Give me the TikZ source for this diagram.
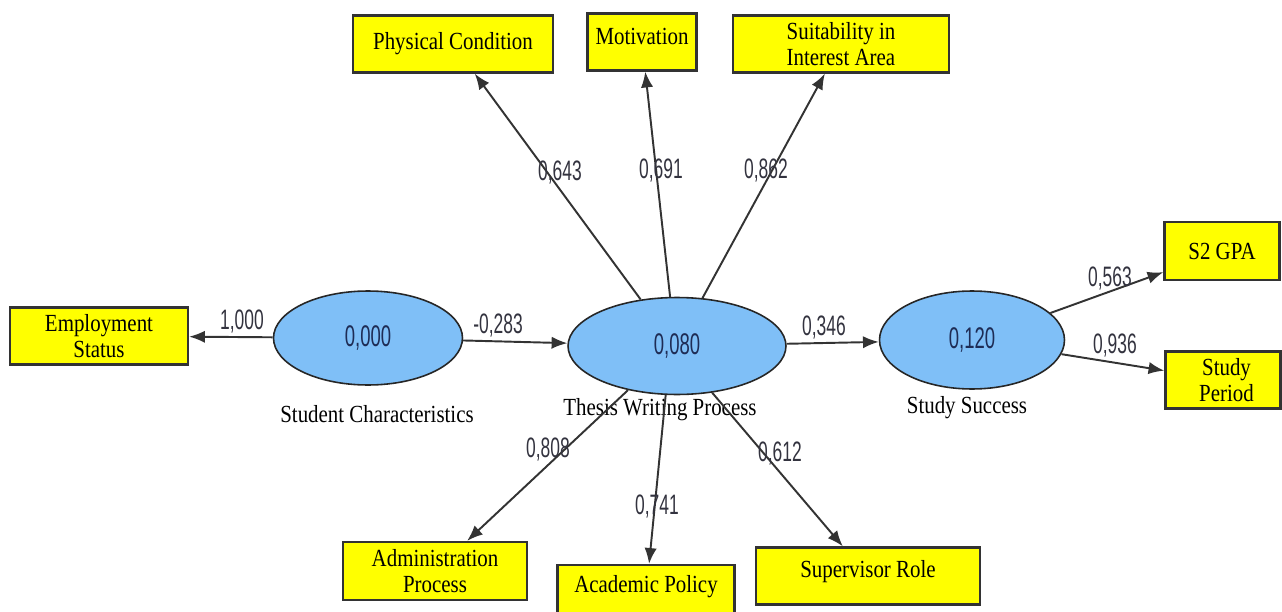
\documentclass[tikz,border=0pt]{standalone}
\usepackage{fontspec}
\setmainfont[FakeStretch=0.85]{Liberation Serif}
\newfontfamily\numfont[FakeStretch=0.62]{Liberation Sans}
\usetikzlibrary{arrows.meta,shapes.geometric}
\definecolor{boxyellow}{HTML}{FFFF00}
\definecolor{latentblue}{HTML}{7FBFF7}
\definecolor{coefgray}{HTML}{33333F}
\definecolor{valnavy}{HTML}{1E2C55}
\begin{document}
\begin{tikzpicture}[x=0.02cm,y=-0.02cm,
    indicator/.style={draw=black!80,line width=1.3pt,fill=boxyellow,inner sep=0pt,align=center,font=\fontsize{14}{14.5}\selectfont},
    latent/.style={ellipse,draw=black!85,line width=0.9pt,fill=latentblue,inner sep=0pt,text=valnavy,font=\numfont\fontsize{17}{17}\selectfont},
    coef/.style={inner sep=1pt,text=coefgray,font=\numfont\fontsize{16}{16}\selectfont},
    caption/.style={inner sep=1pt,font=\fontsize{14}{14}\selectfont},
    link/.style={draw=black!80,line width=1.1pt,-{Latex[length=9pt,width=7pt]}}]
        \clip (0,0) rectangle (1282,612);
        \fill[white] (0,0) rectangle (1282,612);
        % latent variables
        \node[latent,minimum width=3.78cm,minimum height=1.88cm] (sc) at (368,338) {0,000};
        \node[latent,minimum width=4.36cm,minimum height=1.94cm] (tw) at (677,346) {0,080};
        \node[latent,minimum width=3.7cm,minimum height=1.96cm] (ss) at (972,340) {0,120};
        \node[caption] (scl) at (377,414) {Student Characteristics};
        \node[caption] (twl) at (660,410) {Thesis Writing Process};
        \node[caption] (ssl) at (967,408) {Study Success};
        % indicators
        \node[indicator,minimum width=3.56cm,minimum height=1.14cm] (emp) at (99,336) {Employment\\Status};
        \node[indicator,minimum width=4cm,minimum height=1.14cm] (pc) at (453,44) {Physical Condition};
        \node[indicator,minimum width=2.18cm,minimum height=1.14cm,text depth=6pt] (mo) at (642,42) {Motivation};
        \node[indicator,minimum width=4.32cm,minimum height=1.14cm] (sia) at (841,44) {Suitability in\\Interest Area};
        \node[indicator,minimum width=2.3cm,minimum height=1.16cm] (gpa) at (1222,251) {S2 GPA};
        \node[indicator,minimum width=2.3cm,minimum height=1.14cm] (sp) at (1223,380) {\hspace*{4pt}Study\\\hspace*{4pt}Period};
        \node[indicator,minimum width=3.68cm,minimum height=1.16cm] (ap) at (435,571) {Administration\\Process};
        \node[indicator,minimum width=3.54cm,minimum height=1.2cm,text depth=12pt] (acp) at (646,595) {Academic Policy};
        \node[indicator,minimum width=4.48cm,minimum height=1.14cm,text depth=8pt] (sr) at (868,576) {Supervisor Role};
        % paths
        \draw[link] (sc) -- (emp);
        \draw[link] (sc) -- (tw);
        \draw[link] (tw) -- (ss);
        \draw[link] (tw.128) -- (pc);
        \draw[link] (tw.98) -- (mo);
        \draw[link] (tw.62) -- (sia);
        \draw[link] (tw.222) -- (ap);
        \draw[link] (tw.257) -- (acp);
        \draw[link] (tw.307) -- (sr);
        \draw[link] (ss.19) -- (gpa);
        \draw[link] (ss.-9) -- (sp);
        % loadings
        \node[coef] (l1) at (242,321) {1,000};
        \node[coef] (l2) at (498,325) {-0,283};
        \node[coef] (l3) at (824,327) {0,346};
        \node[coef] (l4) at (560,172) {0,643};
        \node[coef] (l5) at (661,170) {0,691};
        \node[coef] (l6) at (766,170) {0,862};
        \node[coef] (l7) at (1110,278) {0,563};
        \node[coef] (l8) at (1115,345) {0,936};
        \node[coef] (l9) at (548,449) {0,808};
        \node[coef] (l10) at (657,506) {0,741};
        \node[coef] (l11) at (780,453) {0,612};
\end{tikzpicture}
\end{document}
